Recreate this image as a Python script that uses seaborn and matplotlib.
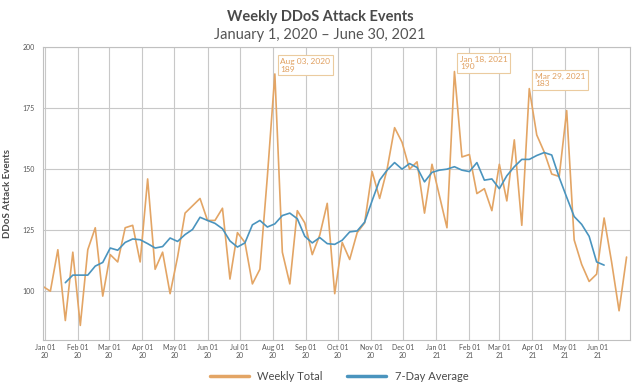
import pandas as pd
import matplotlib
matplotlib.use('Agg')
import matplotlib.pyplot as plt
import seaborn as sns

# Weekly values (weeks starting Monday Dec 30, 2019)
week_start = '2019-12-30'
weekly_total = [102, 100, 117, 88, 116, 86, 117, 126, 98, 115,
                112, 126, 127, 112, 146, 109, 116, 99, 114, 132,
                135, 138, 129, 129, 134, 105, 124, 120, 103, 109,
                147, 189, 116, 103, 133, 128, 115, 123, 136, 99,
                120, 113, 124, 128, 149, 138, 150, 167, 161, 150,
                153, 132, 152, 139, 126, 190, 155, 156, 140, 142,
                133, 152, 137, 162, 127, 183, 164, 157, 148, 147,
                174, 121, 111, 104, 107, 130, 112, 92, 114]
nan = float('nan')
avg_line = [nan, nan, nan, 103.5, 106.6, 106.6, 106.6, 110.3, 111.8, 117.7,
            116.8, 120.0, 121.4, 121.1, 119.5, 117.7, 118.3, 121.8, 120.4, 123.2,
            125.3, 130.3, 129.0, 127.8, 125.6, 120.6, 118.1, 119.8, 127.2, 129.0,
            126.3, 127.6, 131.0, 132.0, 129.7, 122.5, 119.8, 122.0, 119.5, 119.2,
            120.9, 124.3, 124.7, 128.3, 137.1, 145.5, 149.6, 152.7, 150.0, 152.3,
            150.7, 144.8, 148.7, 149.6, 150.0, 151.0, 149.6, 149.0, 152.7, 145.5,
            146.0, 142.0, 147.3, 151.0, 154.0, 154.0, 155.6, 156.8, 155.8, 146.6,
            138.5, 130.6, 127.4, 122.5, 112.0, 110.7, nan, nan, nan]
peaks = [('2020-08-03', 'Aug 03, 2020', 189),
         ('2021-01-18', 'Jan 18, 2021', 190),
         ('2021-03-29', 'Mar 29, 2021', 183)]
y_ticks = [100, 125, 150, 175, 200]

orange = '#E3A565'
blue = '#4A94BE'
text_col = '#4a4a4a'

df = pd.DataFrame({
    'date': pd.date_range(week_start, periods=len(weekly_total), freq='7D'),
    'Weekly Total': weekly_total,
    '7-Day Average': avg_line,
})

sns.set_theme(style='whitegrid')
plt.rcParams['font.family'] = ['Lato', 'DejaVu Sans']

fig = plt.figure(figsize=(6.4, 3.86), dpi=100)
ax = fig.add_axes([0.067, 0.119, 0.917, 0.759])

sns.lineplot(data=df, x='date', y='Weekly Total', color=orange, lw=1.2,
             ax=ax, label='Weekly Total')
sns.lineplot(data=df, x='date', y='7-Day Average', color=blue, lw=1.2,
             ax=ax, label='7-Day Average')

ax.set_ylim(80, 200)
ax.set_yticks(y_ticks)
ax.set_xlim(pd.Timestamp('2019-12-30'), pd.Timestamp('2021-07-01'))
months = pd.date_range('2020-01-01', '2021-06-01', freq='MS')
ax.set_xticks(months)
ax.set_xticklabels([d.strftime('%b %d\n%y') for d in months])
ax.tick_params(axis='x', labelsize=5, colors='#555555', length=0, pad=3)
ax.tick_params(axis='y', labelsize=5, colors='#555555', length=0, pad=6)
ax.grid(True, color='#c8c8c8', lw=0.8)
for s in ax.spines.values():
    s.set_color('#c0c0c0')
    s.set_linewidth(0.8)

ax.set_xlabel('')
ax.set_ylabel('DDoS Attack Events', fontsize=7, fontweight='bold',
              color=text_col)
ax.yaxis.set_label_coords(-0.052, 0.5)

for d, lab, v in peaks:
    ax.annotate(f'{lab}\n{v}', xy=(pd.Timestamp(d), v), xytext=(4, 1),
                textcoords='offset points', ha='left', va='bottom',
                fontsize=6, color='#E0A060', linespacing=1.1,
                bbox=dict(boxstyle='square,pad=0.3', fc='white',
                          ec='#EBCB9F', lw=0.8))

ax.get_legend().remove()
handles, labels = ax.get_legend_handles_labels()
fig.legend(handles, labels, loc='center', bbox_to_anchor=(0.53, 0.025),
           ncol=2, frameon=False, fontsize=8, handlelength=3.5,
           columnspacing=2.2, labelcolor=text_col)
for h in fig.legends[0].get_lines():
    h.set_linewidth(2.5)

fig.text(0.5, 0.955, 'Weekly DDoS Attack Events', ha='center', va='center',
         fontsize=10.5, fontweight='bold', color=text_col)
fig.text(0.5, 0.91, 'January 1, 2020 \u2013 June 30, 2021', ha='center',
         va='center', fontsize=10.5, color='#555555')

fig.savefig('out.png', dpi=100)
